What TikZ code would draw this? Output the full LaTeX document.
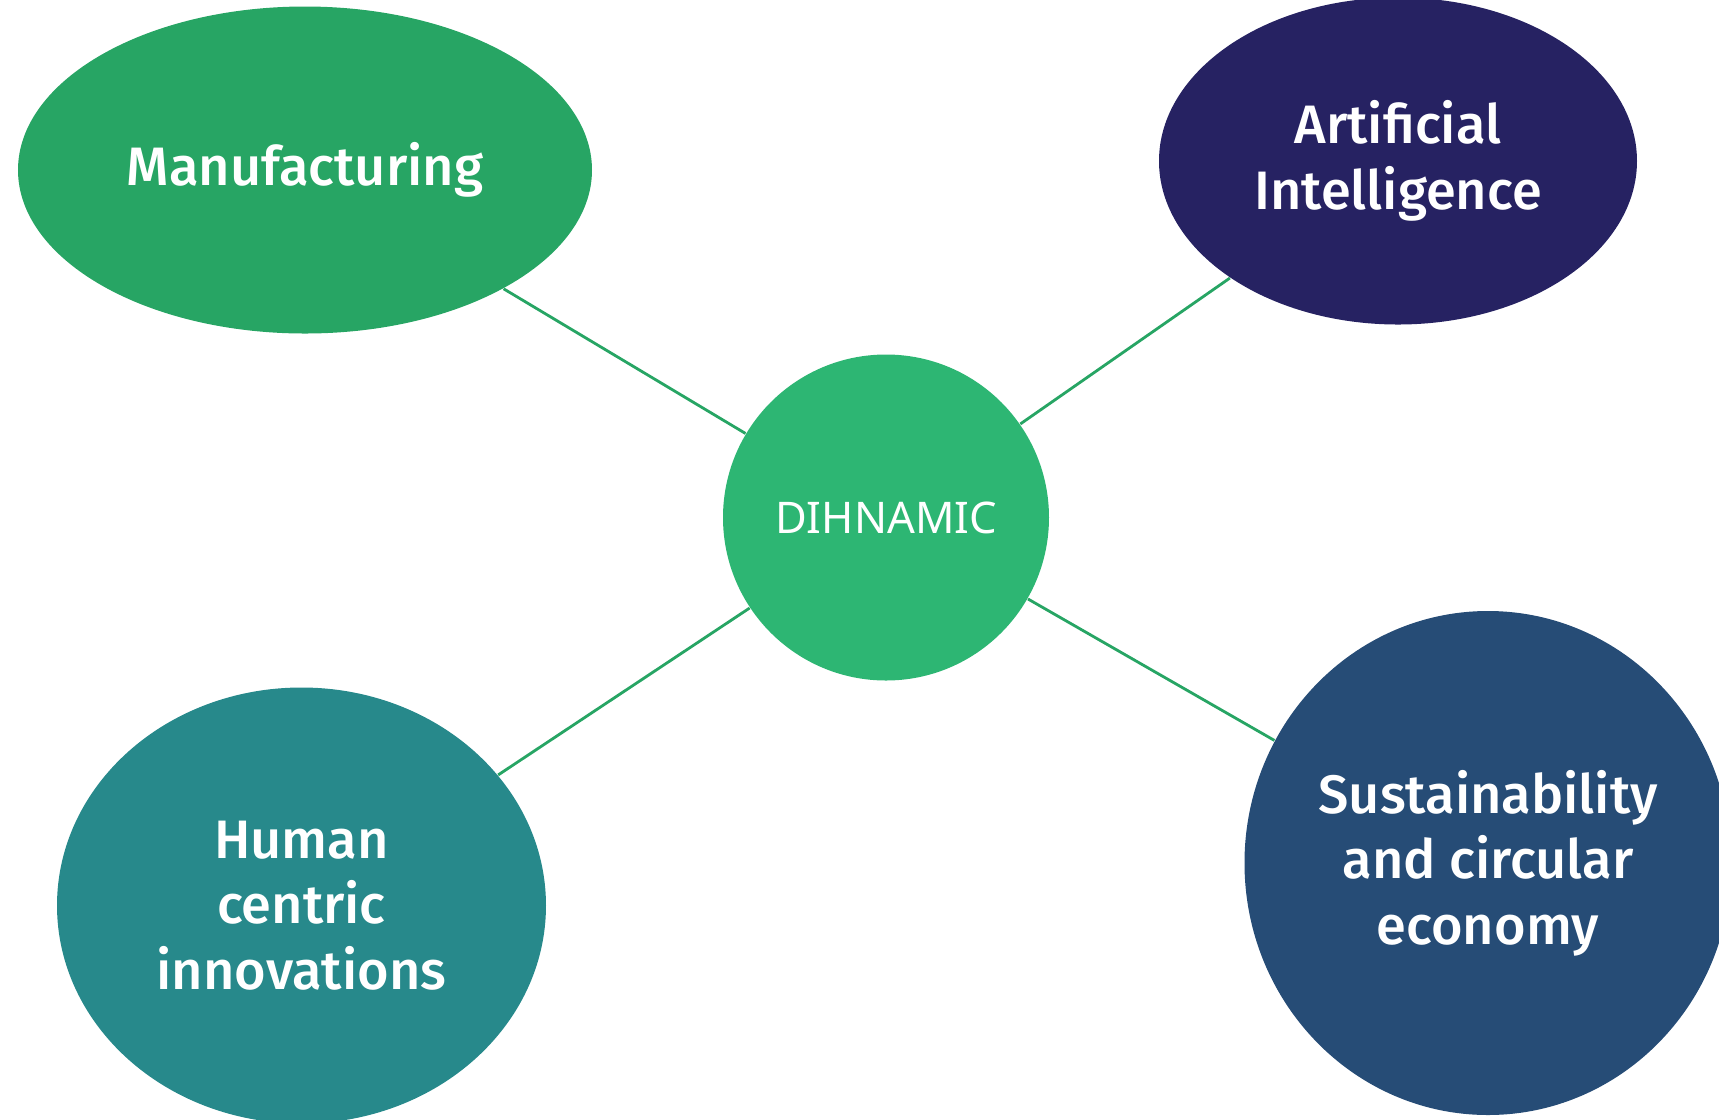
\documentclass[tikz,border=0pt]{standalone}
\usepackage{fontspec}
\newfontfamily\topicfont{Fira Sans Medium}
\newfontfamily\hubfont{Noto Sans}
\usepackage{tikz}
\usetikzlibrary{shapes.geometric}
\definecolor{manugreen}{RGB}{39,165,100}
\definecolor{hubgreen}{RGB}{45,182,115}
\definecolor{aiblue}{RGB}{38,34,98}
\definecolor{humanteal}{RGB}{39,137,139}
\definecolor{sustblue}{RGB}{38,76,118}
\definecolor{linegreen}{RGB}{39,165,100}
\tikzset{
  topic/.style={ellipse,inner xsep=-1.5cm,inner ysep=0pt,text=white,align=center,
    font=\topicfont\fontsize{15.4}{18.6}\selectfont},
  link/.style={draw=linegreen,line width=0.8pt}
}
\begin{document}
\begin{tikzpicture}
% 主题结构图
\useasboundingbox (0,0) rectangle (17.19,-11.19);
\node[circle,fill=hubgreen,minimum size=3.26cm,inner sep=0pt,text=white,font=\hubfont\fontsize{12.4}{15}\selectfont] (hub) at (8.86,-5.175) {DIHNAMIC};
\node[topic,fill=manugreen,minimum width=5.74cm,minimum height=3.27cm] (manu) at (3.05,-1.70) {Manufacturing};
\node[topic,fill=aiblue,minimum width=4.78cm,minimum height=3.27cm] (ai) at (13.98,-1.61) {Artificial\\Intelligence};
\node[topic,fill=humanteal,minimum width=4.89cm,minimum height=4.36cm] (human) at (3.015,-9.055) {Human\\centric\\innovations};
\node[topic,fill=sustblue,minimum width=4.87cm,minimum height=5.04cm] (sust) at (14.88,-8.63) {Sustainability\\and circular\\economy};

\draw[link] (hub) -- (manu);
\draw[link] (hub) -- (ai);
\draw[link] (hub) -- (human);
\draw[link] (hub) -- (sust);
\end{tikzpicture}
\end{document}
